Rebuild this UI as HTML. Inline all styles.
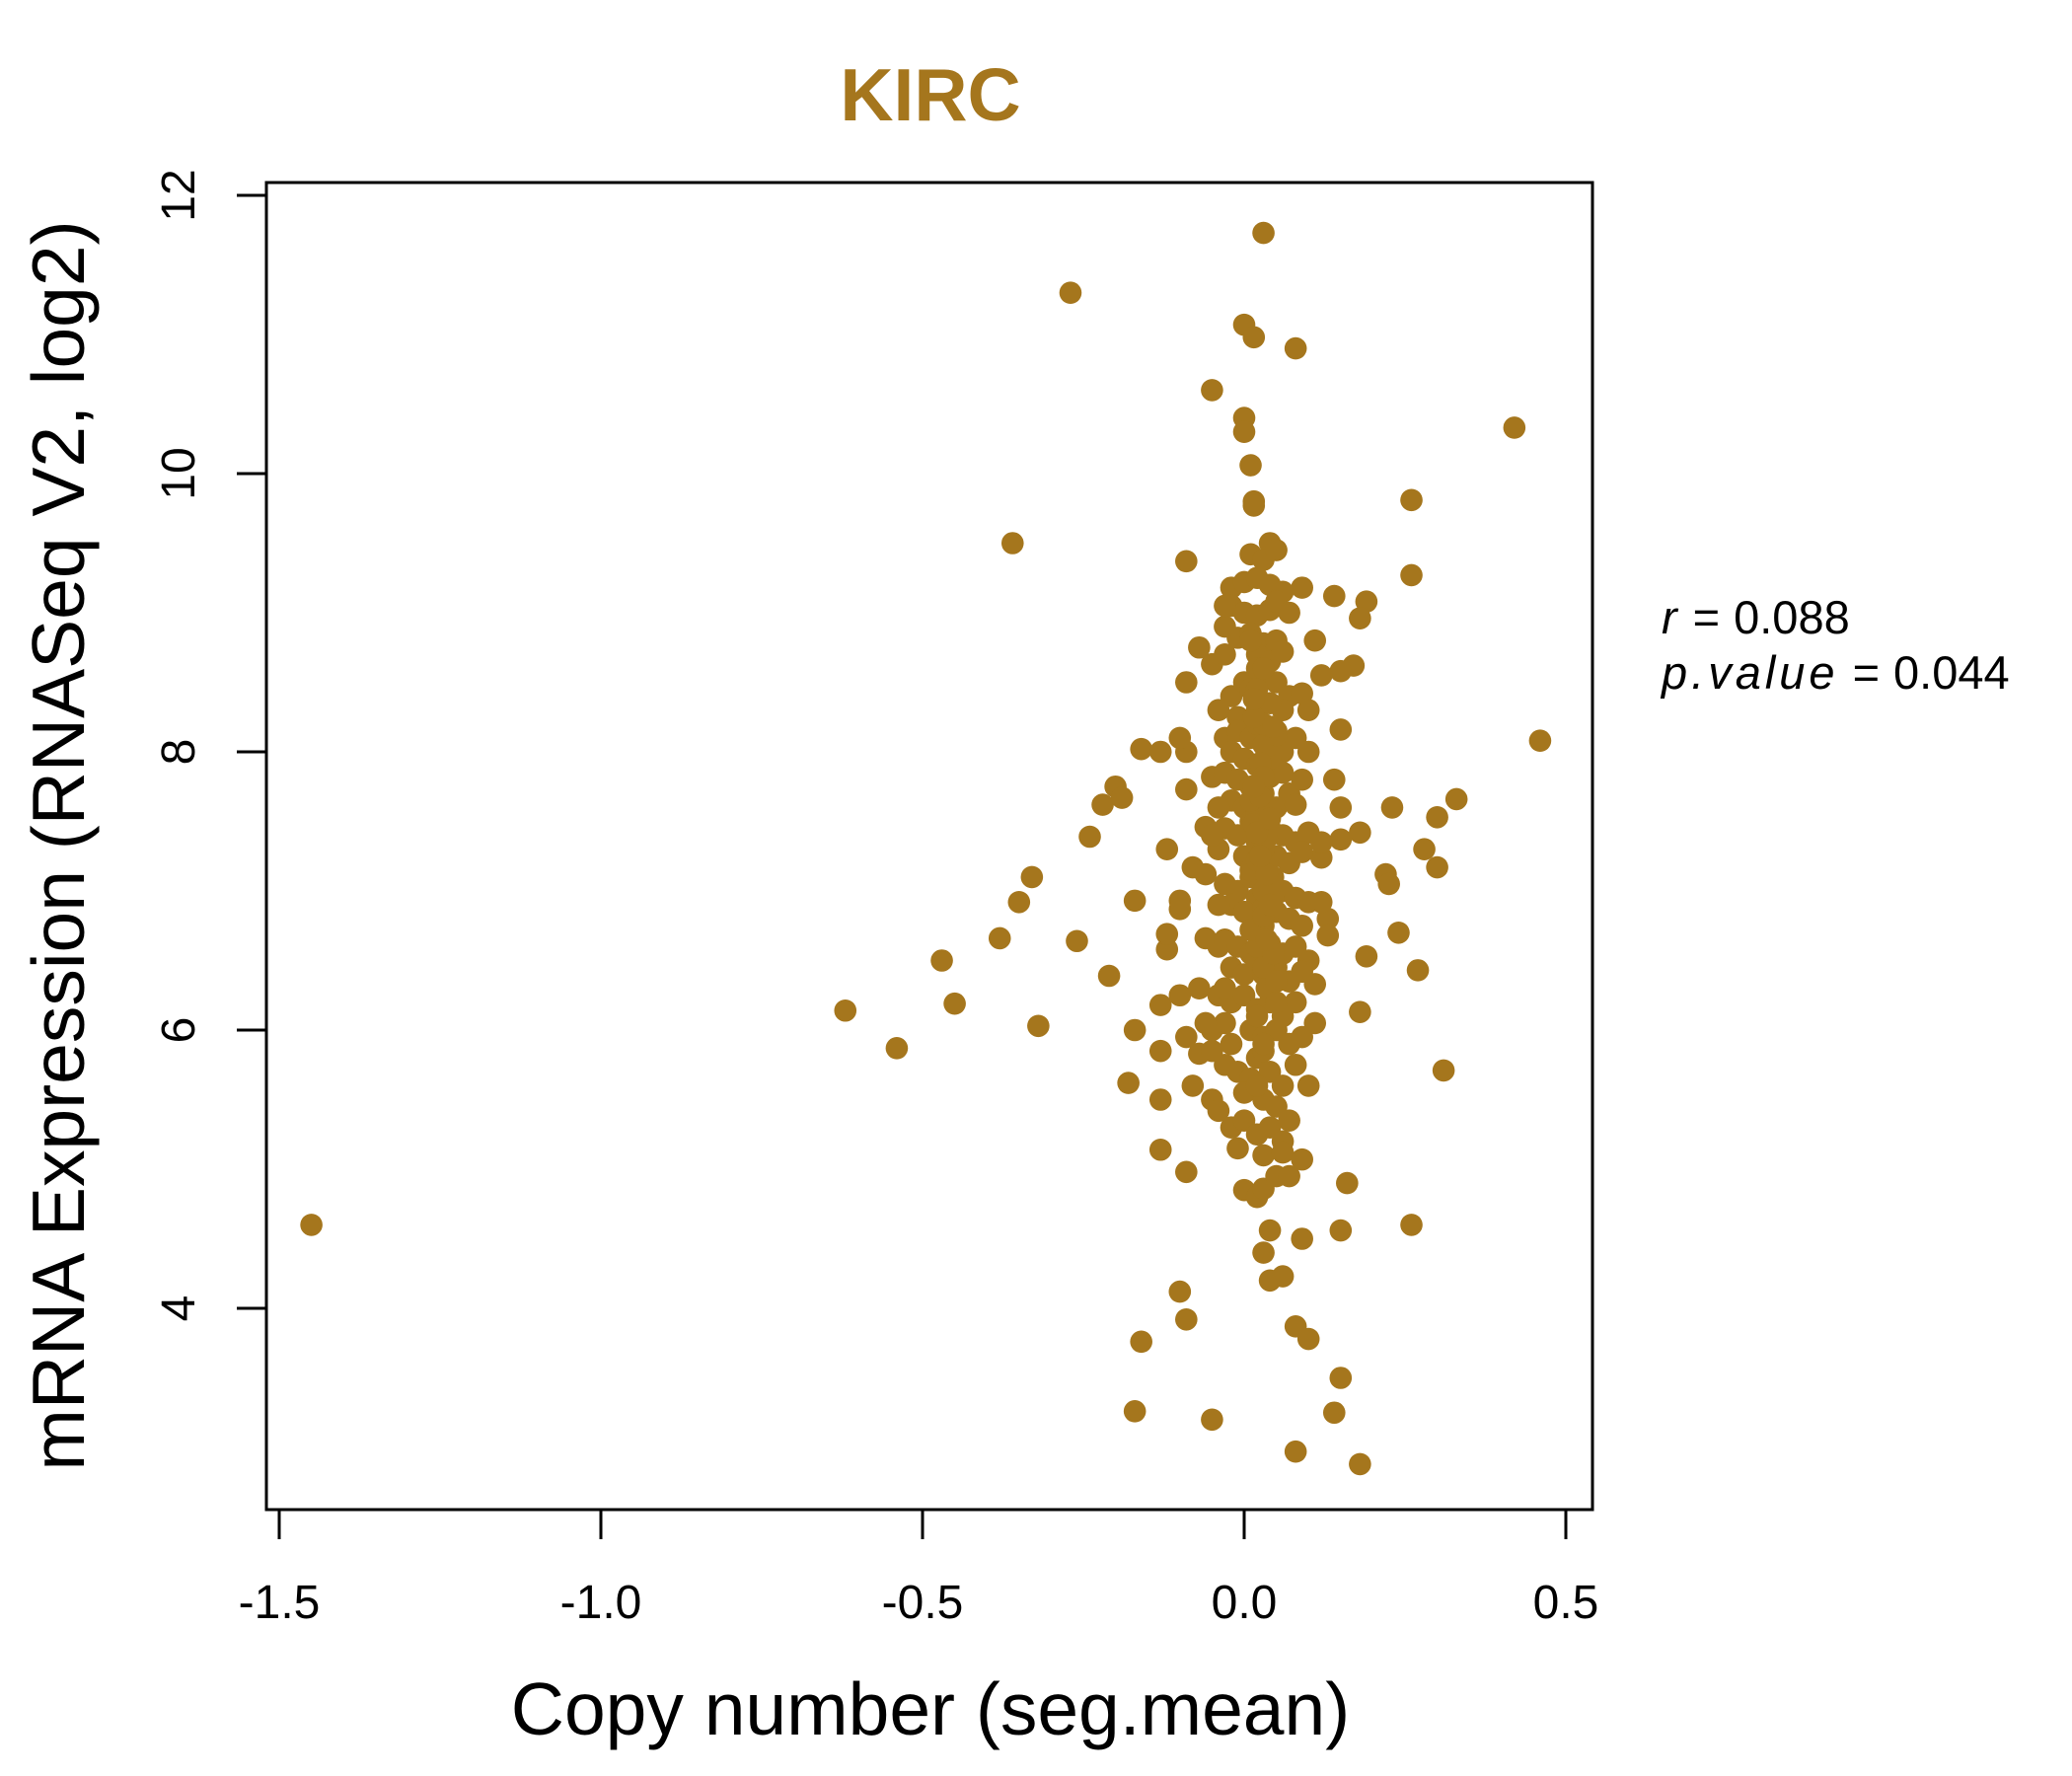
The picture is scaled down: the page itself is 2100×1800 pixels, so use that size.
<!DOCTYPE html>
<html><head><meta charset="utf-8">
<style>
html,body{margin:0;padding:0;background:#fff;}
svg{display:block;}
text{font-family:"Liberation Sans",Arial,sans-serif;}
</style></head>
<body>
<svg id="chart" width="2100" height="1800" viewBox="0 0 2100 1800" xmlns="http://www.w3.org/2000/svg">
<rect x="0" y="0" width="2100" height="1800" fill="#fff"/>
<text x="943" y="122" font-size="75" font-weight="bold" fill="#A5761D" text-anchor="middle">KIRC</text>
<rect x="270" y="185" width="1344" height="1345" fill="none" stroke="#000" stroke-width="3"/>
<g id="xaxis"></g>
<g id="yaxis"></g>
<g id="points"></g>
<text x="943" y="1758" font-size="75" text-anchor="middle">Copy number (seg.mean)</text>
<text transform="translate(85,857) rotate(-90)" font-size="75" text-anchor="middle">mRNA Expression (RNASeq V2, log2)</text>
<text x="1684" y="642" font-size="47"><tspan font-style="italic">r</tspan><tspan dx="16">=</tspan><tspan dx="14">0.088</tspan></text>
<text x="1684" y="698" font-size="47"><tspan font-style="italic" letter-spacing="4">p.value</tspan><tspan dx="14">=</tspan><tspan dx="14">0.044</tspan></text>
</svg>
<script>
const xTicks = [-1.5, -1.0, -0.5, 0.0, 0.5];
const xTickLabels = ["-1.5", "-1.0", "-0.5", "0.0", "0.5"];
const yTicks = [4, 6, 8, 10, 12];
const yTickLabels = ["4", "6", "8", "10", "12"];
const copyNumber = [-1.45,-0.27,0.03,0.0,0.015,0.08,-0.05,0.0,0.0,0.01,0.42,0.26,0.015,0.015,-0.36,0.04,-0.09,0.26,0.09,0.14,0.19,0.18,0.11,0.17,0.15,0.12,0.46,0.33,0.23,0.3,0.15,0.14,0.18,0.15,0.28,0.3,0.22,0.225,0.12,0.13,0.24,0.27,0.19,0.18,0.31,0.16,0.26,0.15,0.15,0.14,0.18,0.08,0.1,0.08,0.09,0.06,0.04,0.03,0.04,-0.05,-0.17,-0.16,-0.09,-0.1,-0.62,-0.54,-0.45,-0.47,-0.38,-0.35,-0.33,-0.32,-0.26,-0.24,-0.22,-0.21,-0.2,-0.19,-0.17,-0.16,-0.13,-0.12,-0.17,-0.18,-0.13,-0.13,-0.13,-0.09,-0.12,-0.12,-0.1,-0.1,-0.13,-0.1,-0.09,-0.08,-0.07,-0.09,-0.09,-0.1,-0.09,-0.07,-0.05,-0.06,-0.05,-0.08,-0.06,-0.06,-0.04,-0.05,-0.05,-0.04,
0.01,0.03,0.05,-0.02,0.0,0.02,0.04,0.06,-0.02,0.0,0.02,0.04,0.05,0.07,-0.01,0.01,0.03,0.05,0.02,0.04,0.06,-0.03,
-0.02,0.0,0.01,0.03,0.05,0.07,0.09,0.1,0.06,0.02,-0.01,0.04,-0.03,-0.01,0.01,0.02,0.03,0.05,0.06,0.08,0.1,0.15,-0.02,0.0,
-0.03,-0.01,0.01,0.02,0.04,0.06,0.07,0.09,0.03,-0.02,0.0,0.05,0.08,-0.03,-0.01,0.01,0.02,0.04,0.06,0.08,0.1,0.12,-0.04,0.0,0.03,0.05,0.07,0.09,
-0.03,-0.01,0.01,0.02,0.04,0.06,0.08,0.1,0.12,-0.02,0.0,0.03,0.05,0.07,0.09,-0.03,-0.01,0.01,0.02,0.04,0.06,0.08,0.1,-0.02,0.0,0.03,0.05,0.07,0.09,0.11,0.13,
-0.04,-0.02,0.0,0.02,0.04,0.06,0.08,0.11,-0.03,0.01,0.03,0.05,0.07,0.09,-0.06,-0.07,
-0.03,-0.01,0.01,0.02,0.04,0.06,0.08,0.1,0.0,0.03,0.05,-0.02,0.0,0.02,0.04,0.06,0.07,-0.01,0.03,0.06,0.09,
0.0,0.02,0.03,0.05,0.07,-0.04,-0.05,-0.04,-0.03,-0.02,-0.05,-0.04,-0.03,-0.03,
0.02,0.03,0.04,0.02,0.03,0.01,0.04,0.03,0.02,0.035,0.025,0.015,0.045,0.03,0.02,0.04,0.01,0.03,0.05,0.02,
0.025,0.035,0.015,0.045,0.03,0.02,0.04,0.01,0.03,0.05,0.02,0.03,0.04,0.025,0.035,0.015,0.045,0.03,0.02,0.04,
0.01,0.03,0.05,0.02,0.03,0.04,0.025,0.035,0.015,0.045];
const expression = [4.6,11.3,11.73,11.07,10.98,10.9,10.6,10.4,10.3,10.06,10.33,9.81,9.8,9.77,9.5,9.5,9.37,9.27,9.18,9.12,9.08,8.96,8.8,8.62,8.58,8.55,8.08,7.66,7.6,7.53,7.6,7.8,7.42,7.37,7.3,7.17,7.12,7.05,7.24,6.8,6.7,6.43,6.53,6.13,5.71,4.9,4.6,4.56,3.5,3.25,2.88,2.97,3.78,3.87,4.5,4.23,4.2,4.4,4.56,3.2,3.26,3.76,3.92,4.12,6.14,5.87,6.19,6.5,6.66,6.92,7.1,6.03,6.64,7.39,7.62,6.39,7.75,7.67,6.93,8.02,8.0,7.3,6.0,5.62,5.5,5.85,5.14,4.98,6.58,6.69,6.93,6.87,6.18,6.25,5.95,5.6,5.83,7.73,8.0,8.1,8.5,8.75,8.63,7.46,7.82,7.17,7.12,6.66,6.6,6.0,5.5,5.42,
9.42,9.38,9.45,9.18,9.22,9.25,9.2,9.15,9.05,9.0,8.98,9.02,9.08,9.0,8.82,8.85,8.78,8.8,8.7,8.65,8.72,8.7,
8.4,8.5,8.45,8.55,8.5,8.4,8.42,8.3,8.3,8.3,8.25,8.35,8.1,8.15,8.1,8.2,8.05,8.15,8.0,8.1,8.0,8.16,8.0,7.95,
7.85,7.8,7.75,7.9,7.82,7.85,7.7,7.8,7.7,7.65,7.6,7.6,7.62,7.45,7.4,7.5,7.35,7.45,7.4,7.35,7.42,7.35,7.3,7.25,7.2,7.25,7.2,7.28,
7.05,7.0,7.1,6.95,7.05,7.0,6.95,6.92,6.92,6.9,6.85,6.8,6.85,6.8,6.75,6.65,6.6,6.55,6.7,6.62,6.55,6.6,6.5,6.45,6.4,6.4,6.45,6.35,6.42,6.33,6.68,
6.25,6.2,6.25,6.15,6.2,6.1,6.2,6.05,6.05,6.0,5.95,6.0,5.9,5.95,6.05,6.3,
5.75,5.7,5.65,5.8,5.7,5.6,5.75,5.6,5.55,5.5,5.45,5.3,5.35,5.25,5.3,5.2,5.35,5.15,5.1,5.12,5.07,
4.85,4.8,4.86,4.95,4.95,7.6,7.4,6.9,6.3,5.9,5.85,8.3,8.9,9.05,
8.6,8.2,7.95,7.55,7.3,7.15,6.98,6.75,6.5,6.3,7.78,7.48,7.1,6.88,6.6,8.05,7.65,7.0,6.2,8.45,
7.92,7.38,8.25,6.95,6.45,7.22,7.58,6.72,7.82,8.12,6.1,6.82,7.02,7.68,7.12,8.38,6.55,5.85,7.42,7.52,
8.8,8.6,6.35,5.6,5.9,6.9,7.25,6.65,7.75,8.18];

const NS = "http://www.w3.org/2000/svg";
function xScale(v){ return 283 + (v + 1.5) * 652; }
function yScale(v){ return 1326 - (v - 4) * 141; }
function mk(tag, attrs){ const e = document.createElementNS(NS, tag); for (const k in attrs) e.setAttribute(k, attrs[k]); return e; }

const xa = document.getElementById('xaxis');
xTicks.forEach((t, i) => {
  const ln = mk('line', {x1: xScale(t), x2: xScale(t), y1: 1530, y2: 1560, stroke: '#000', 'stroke-width': 3});
  
  
  xa.appendChild(ln);
  const tx = mk('text', {x: xScale(t), y: 1640, 'font-size': 48, 'text-anchor': 'middle'});
  
  
  tx.textContent = xTickLabels[i];
  xa.appendChild(tx);
});
const ya = document.getElementById('yaxis');
yTicks.forEach((t, i) => {
  const ln = mk('line', {x1: 240, x2: 270, y1: yScale(t), y2: yScale(t), stroke: '#000', 'stroke-width': 3});
  
  
  ya.appendChild(ln);
  const tx = mk('text', {'font-size': 48, 'text-anchor': 'middle', transform: `translate(197,${yScale(t)}) rotate(-90)`});
  
  
  tx.textContent = yTickLabels[i];
  ya.appendChild(tx);
});
const pg = document.getElementById('points');
copyNumber.forEach((cx, i) => {
  const c = mk('circle', {cx: xScale(cx), cy: yScale(expression[i]), r: 11.3, fill: '#A5761D'});
  
  
  pg.appendChild(c);
});
</script>
</body></html>
